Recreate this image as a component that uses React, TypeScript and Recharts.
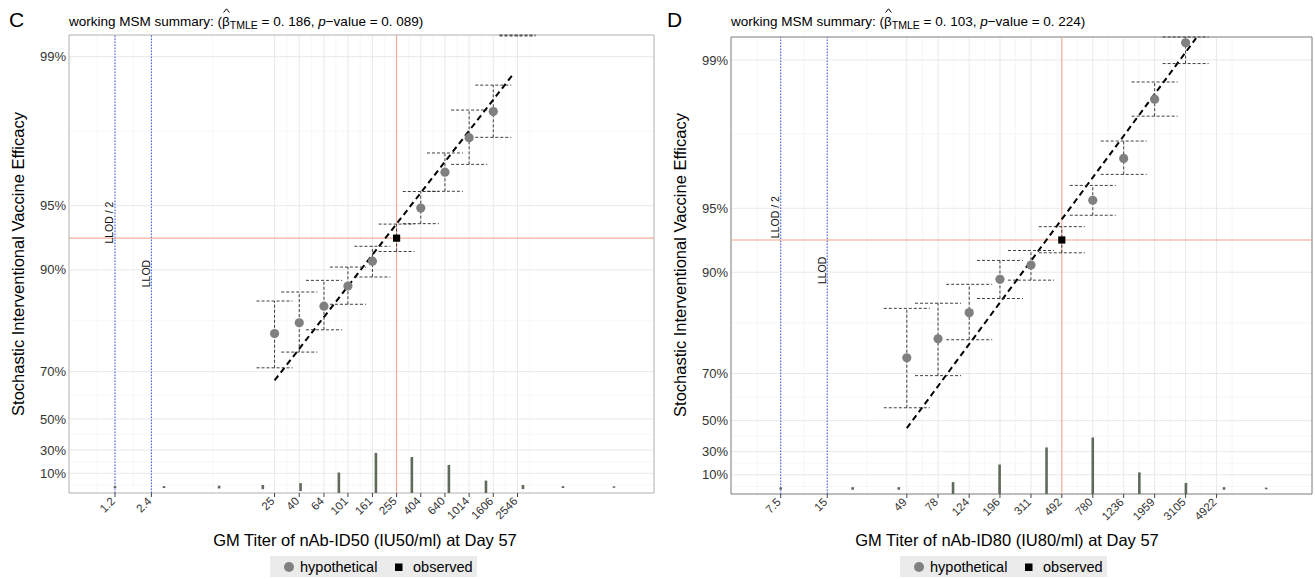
import React from 'react';
import {
  ComposedChart, Scatter, XAxis, YAxis, CartesianGrid, ReferenceLine, ReferenceArea, ErrorBar,
} from 'recharts';

const FONT = '"Liberation Sans", Arial, Helvetica, sans-serif';

// ---------- shared y axis (vaccine efficacy, %) ----------
const veTickValues = [10, 30, 50, 70, 90, 95, 99];
const veTickLabels = ['10%', '30%', '50%', '70%', '90%', '95%', '99%'];

// ---------- Panel C : nAb-ID50 ----------
const cTickValues = [1.2, 2.4, 25, 40, 64, 101, 161, 255, 404, 640, 1014, 1606, 2546];
const cTickLabels = ['1.2', '2.4', '25', '40', '64', '101', '161', '255', '404', '640', '1014', '1606', '2546'];
const cTiters = [25, 40, 64, 101, 161, 404, 640, 1014, 1606, 2546];
const cVE = [80.1, 82.3, 85.2, 88.1, 90.9, 94.87, 96.52, 97.6, 98.19, 99.5];
const cLower = [71.2, 75.7, 80.9, 85.5, 89.2, 93.93, 95.72, 96.8, 97.61, 99.2];
const cUpper = [86.0, 87.3, 88.8, 90.3, 92.25, 95.71, 97.17, 98.22, 98.64, 99.7];
const cObsTiter = 255;
const cObsVE = 92.9;
const cObsLower = 91.8;
const cObsUpper = 93.9;
const cFitTiters = [25, 2394];
const cFitVE = [67.0, 98.81];
const cHistTiters = [1.2, 3.05, 8.7, 20, 41, 85, 172, 341, 690, 1397, 2826, 6050, 15960];
const cHistHeight = [0.01, 0.01, 0.015, 0.022, 0.043, 0.157, 0.369, 0.325, 0.239, 0.07, 0.022, 0.01, 0.008];
const cLLOD = 2.4;
const cLabelVE = [94.0, 89.6]; // LLOD/2, LLOD label heights

// ---------- Panel D : nAb-ID80 ----------
const dTickValues = [7.5, 15, 49, 78, 124, 196, 311, 492, 780, 1236, 1959, 3105, 4922];
const dTickLabels = ['7.5', '15', '49', '78', '124', '196', '311', '492', '780', '1236', '1959', '3105', '4922'];
const dTiters = [49, 78, 124, 196, 311, 780, 1236, 1959, 3105];
const dVE = [74.7, 79.4, 84.5, 89.2, 90.75, 95.42, 97.09, 98.47, 99.17];
const dLower = [56.5, 69.3, 79.2, 86.7, 89.1, 94.61, 96.54, 98.16, 98.96];
const dUpper = [85.2, 86.0, 88.6, 91.2, 92.1, 96.1, 97.59, 98.73, 99.45];
const dObsTiter = 492;
const dObsVE = 92.95;
const dObsLower = 91.9;
const dObsUpper = 93.9;
const dFitTiters = [49, 3630];
const dFitVE = [45.7, 99.21];
const dHistTiters = [7.5, 21.9, 43.5, 97.5, 195, 392, 780, 1560, 3120, 5500, 10300];
const dHistHeight = [0.011, 0.014, 0.014, 0.069, 0.26, 0.445, 0.553, 0.174, 0.06, 0.014, 0.009];
const dLLOD = 15;
const dLabelVE = [94.5, 90.2];

const HIST_MID = -0.043; // centre of distribution strips (transformed units)

// transform used by the y axis: -log(1 - VE)
const tr = (ve: number) => -Math.log(1 - ve / 100);
const lg = (v: number) => Math.log10(v);

function midpoints(vals: number[]) {
  const out: number[] = [];
  out.push(vals[0] - (vals[1] - vals[0]) / 2);
  for (let i = 0; i < vals.length - 1; i++) out.push((vals[i] + vals[i + 1]) / 2);
  const n = vals.length;
  out.push(vals[n - 1] + (vals[n - 1] - vals[n - 2]) / 2);
  return out;
}

function buildPanel(o: any) {
  const [yLo, yHi] = o.yDomain;
  // error bars are cut at the panel limits (as the plotting region clips them)
  const errOf = (t: number, lo: number, hi: number) => [t - Math.max(lo, yLo), Math.min(hi, yHi) - t];
  return {
    ...o,
    points: o.titers.map((v: number, i: number) => {
      const t = tr(o.ve[i]);
      return { lx: lg(v), t, err: errOf(t, tr(o.lower[i]), tr(o.upper[i])) };
    }),
    observed: [{
      lx: lg(o.obsTiter), t: tr(o.obsVE),
      err: errOf(tr(o.obsVE), tr(o.obsLower), tr(o.obsUpper)),
    }],
    hist: o.histTiters.map((v: number, i: number) => ({
      lx: lg(v), t: HIST_MID, err: errOf(HIST_MID, HIST_MID - o.histHeight[i], HIST_MID + o.histHeight[i]),
    })),
    labels: [
      { lx: lg(o.llod / 2), t: tr(o.labelVE[0]), label: 'LLOD / 2' },
      { lx: lg(o.llod), t: tr(o.labelVE[1]), label: 'LLOD' },
    ],
    xMajor: o.tickValues.map(lg),
    yMajor: veTickValues.map(tr),
  };
}

const panelC = buildPanel({
  left: 0, width: 660, top: 35, right: 6, yAxisWidth: 69, xAxisHeight: 86,
  xDomain: [-0.301, 4.534], yDomain: [-0.107, 4.839], cap: 18, border: '#b0b0b0',
  tickValues: cTickValues, tickLabels: cTickLabels,
  titers: cTiters, ve: cVE, lower: cLower, upper: cUpper,
  obsTiter: cObsTiter, obsVE: cObsVE, obsLower: cObsLower, obsUpper: cObsUpper,
  fitTiters: cFitTiters, fitVE: cFitVE,
  histTiters: cHistTiters, histHeight: cHistHeight, llod: cLLOD, labelVE: cLabelVE,
});

const panelD = buildPanel({
  left: 660, width: 655, top: 37, right: 3, yAxisWidth: 71, xAxisHeight: 85,
  xDomain: [0.554, 4.309], yDomain: [-0.103, 4.854], cap: 23, border: '#7a7a7a',
  tickValues: dTickValues, tickLabels: dTickLabels,
  titers: dTiters, ve: dVE, lower: dLower, upper: dUpper,
  obsTiter: dObsTiter, obsVE: dObsVE, obsLower: dObsLower, obsUpper: dObsUpper,
  fitTiters: dFitTiters, fitVE: dFitVE,
  histTiters: dHistTiters, histHeight: dHistHeight, llod: dLLOD, labelVE: dLabelVE,
});

const nothing = () => <g />;

function Panel({ p }: { p: any }) {
  const xMinor = midpoints(p.xMajor).filter((v: number) => v > p.xDomain[0] && v < p.xDomain[1]);
  const yMinor = midpoints(p.yMajor).filter((v: number) => v > p.yDomain[0] && v < p.yDomain[1]);
  const labelFor = (v: number, vals: number[], labs: string[]) => {
    let best = 0;
    vals.forEach((x, i) => { if (Math.abs(x - v) < Math.abs(vals[best] - v)) best = i; });
    return labs[best];
  };
  const inside = (t: number) => t >= p.yDomain[0] && t <= p.yDomain[1];
  const renderXTick = (props: any) => {
    const { x, y, payload } = props;
    const ax = x - 2;
    const ay = y;
    return (
      <text x={ax} y={ay} transform={`rotate(-45 ${ax} ${ay})`} textAnchor="end" dy="0.35em"
        fontSize={11.5} fontFamily={FONT} fill="#333">
        {labelFor(payload.value, p.xMajor, p.tickLabels)}
      </text>
    );
  };
  return (
    <div style={{ position: 'absolute', left: p.left, top: 0 }}>
      <ComposedChart width={p.width} height={579}
        margin={{ top: p.top, right: p.right, bottom: 0, left: 0 }}>
        <CartesianGrid horizontalValues={yMinor} verticalValues={xMinor} stroke="#f3f3f3" strokeWidth={0.7} />
        <CartesianGrid horizontalValues={p.yMajor} verticalValues={p.xMajor} stroke="#e6e6e6" strokeWidth={0.9} />
        <XAxis type="number" dataKey="lx" domain={p.xDomain} allowDataOverflow ticks={p.xMajor}
          interval={0} tick={renderXTick} tickSize={4} tickLine={{ stroke: '#444' }} axisLine={false}
          height={p.xAxisHeight} />
        <YAxis type="number" dataKey="t" domain={p.yDomain} allowDataOverflow ticks={p.yMajor}
          interval={0} tickFormatter={(v: number) => labelFor(v, p.yMajor, veTickLabels)}
          tick={{ fontSize: 13, fill: '#333', fontFamily: FONT }} tickLine={false} axisLine={false}
          tickSize={0} tickMargin={3} width={p.yAxisWidth} />
        <ReferenceArea x1={p.xDomain[0]} x2={p.xDomain[1]} y1={p.yDomain[0]} y2={p.yDomain[1]}
          fill="none" stroke={p.border} strokeWidth={1} ifOverflow="visible" />
        <ReferenceLine x={lg(p.llod / 2)} stroke="#4f66ea" strokeDasharray="1.5 1.5" strokeWidth={1.1} />
        <ReferenceLine x={lg(p.llod)} stroke="#4f66ea" strokeDasharray="1.5 1.5" strokeWidth={1.1} />
        <ReferenceLine x={lg(p.obsTiter)} stroke="#f4a48c" strokeWidth={1} />
        <ReferenceLine y={tr(p.obsVE)} stroke="#f4a48c" strokeWidth={1} />
        <Scatter data={p.hist} shape={nothing} isAnimationActive={false}>
          <ErrorBar dataKey="err" direction="y" width={0} stroke="#5f6a5a" strokeWidth={2.6} isAnimationActive={false} />
        </Scatter>
        <Scatter data={p.labels} isAnimationActive={false}
          shape={(s: any) => (
            <text x={s.cx - 1.5} y={s.cy} transform={`rotate(-90 ${s.cx - 1.5} ${s.cy})`}
              textAnchor="middle" fontSize={10.5} fontFamily={FONT} fill="#111">
              {s.payload.label}
            </text>
          )} />
        <ReferenceLine segment={[
          { x: lg(p.fitTiters[0]), y: tr(p.fitVE[0]) },
          { x: lg(p.fitTiters[1]), y: tr(p.fitVE[1]) },
        ]} stroke="#000" strokeWidth={2} strokeDasharray="6 4" ifOverflow="hidden" />
        <Scatter data={p.points} isAnimationActive={false}
          shape={(s: any) => (inside(s.payload.t)
            ? <circle cx={s.cx} cy={s.cy} r={4.6} fill="#808080" />
            : <g />)}>
          <ErrorBar dataKey="err" direction="y" width={p.cap} stroke="#2a2a2a" strokeWidth={0.9}
            strokeDasharray="3 2" isAnimationActive={false} />
        </Scatter>
        <Scatter data={p.observed} isAnimationActive={false}
          shape={(s: any) => <rect x={s.cx - 3.6} y={s.cy - 3.6} width={7.2} height={7.2} fill="#000" />}>
          <ErrorBar dataKey="err" direction="y" width={p.cap} stroke="#2a2a2a" strokeWidth={0.9}
            strokeDasharray="3 2" isAnimationActive={false} />
        </Scatter>
      </ComposedChart>
    </div>
  );
}

function Title({ left, beta, pval }: { left: number; beta: string; pval: string }) {
  return (
    <div style={{
      position: 'absolute', left, top: 14, fontFamily: FONT, fontSize: 13.5, lineHeight: '16px',
      whiteSpace: 'nowrap', color: '#000',
    }}>
      working MSM summary: (
      <span style={{ position: 'relative' }}>
        β
        <svg width={7} height={5} style={{ position: 'absolute', left: 1, top: -6 }}>
          <polyline points="0.6,4.5 3.5,0.8 6.4,4.5" fill="none" stroke="#000" strokeWidth={1} />
        </svg>
      </span>
      <span style={{ fontSize: 10.5, position: 'relative', top: 3 }}>TMLE</span>
      {` = ${beta}, `}
      <i>p</i>
      {`\u2212value = ${pval})`}
    </div>
  );
}

function Legend({ x }: { x: number }) {
  return (
    <g fontFamily={FONT} fontSize={14.5} fill="#000">
      <rect x={x} y={556} width={207} height={21} fill="#ebebeb" />
      <circle cx={x + 19} cy={567} r={5} fill="#808080" />
      <text x={x + 30} y={572}>hypothetical</text>
      <rect x={x + 125} y={563.5} width={7.5} height={7.5} fill="#000" />
      <text x={x + 143} y={572}>observed</text>
    </g>
  );
}

export default function App() {
  return (
    <div style={{ position: 'absolute', left: 0, top: 0, width: 1315, height: 579, background: '#fff', overflow: 'hidden' }}>
      <Panel p={panelC} />
      <Panel p={panelD} />
      <svg width={1315} height={579} style={{ position: 'absolute', left: 0, top: 0, pointerEvents: 'none' }}>
        <text x={9} y={27} fontFamily={FONT} fontSize={21} fill="#000">C</text>
        <text x={667} y={27} fontFamily={FONT} fontSize={21} fill="#000">D</text>
        <text transform="translate(18,264) rotate(-90)" textAnchor="middle" dominantBaseline="central"
          fontFamily={FONT} fontSize={16.5} fill="#000">Stochastic Interventional Vaccine Efficacy</text>
        <text transform="translate(680,265) rotate(-90)" textAnchor="middle" dominantBaseline="central"
          fontFamily={FONT} fontSize={16.5} fill="#000">Stochastic Interventional Vaccine Efficacy</text>
        <text x={365} y={546} textAnchor="middle" fontFamily={FONT} fontSize={16.5} fill="#000">
          GM Titer of nAb-ID50 (IU50/ml) at Day 57
        </text>
        <text x={1007} y={546} textAnchor="middle" fontFamily={FONT} fontSize={16.5} fill="#000">
          GM Titer of nAb-ID80 (IU80/ml) at Day 57
        </text>
        <Legend x={270} />
        <Legend x={900} />
      </svg>
      <Title left={69} beta="0. 186" pval="0. 089" />
      <Title left={731} beta="0. 103" pval="0. 224" />
    </div>
  );
}
